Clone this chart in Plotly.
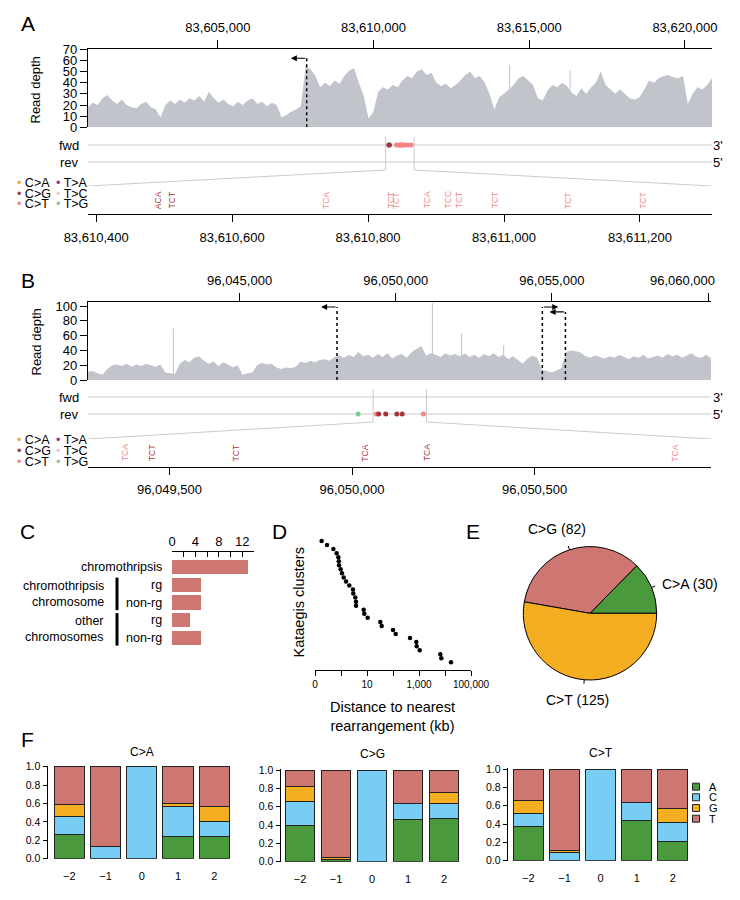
import math
import plotly.graph_objects as go

W, H = 740, 900
FONT = "Liberation Sans, Arial, Helvetica, sans-serif"


def X(px):
    return px / W


def Y(py):
    return 1 - py / H


def DX(a, b):
    return [a / W, b / W]


def DY(top, bottom):
    return [1 - bottom / H, 1 - top / H]


# ============================ DATA ============================
MUT_TYPES = ["C>A", "C>G", "C>T", "T>A", "T>C", "T>G"]

# ---- Panel A ----
A_RANGE = [83600830, 83620870]
A_ZOOM = [83610388, 83611306]
A_TOP_TICKS = [83605000, 83610000, 83615000, 83620000]
A_DEPTH_START = 83600830
A_DEPTH_STEP = 155.35
A_DEPTH = [18, 22, 20, 26, 29, 24, 21, 25, 20, 18,
           17, 21, 23, 18, 16, 9, 20, 24, 21, 25,
           22, 26, 24, 28, 23, 32, 26, 22, 25, 21,
           19, 23, 20, 24, 26, 21, 23, 19, 22, 20,
           9, 11, 14, 16, 19, 55, 52, 46, 36, 40,
           37, 42, 39, 46, 51, 53, 40, 28, 8, 14,
           32, 36, 34, 38, 36, 42, 46, 44, 50, 52,
           47, 49, 40, 37, 39, 35, 38, 42, 47, 50,
           44, 46, 40, 30, 16, 27, 30, 34, 38, 44,
           46, 42, 38, 26, 24, 33, 38, 36, 40, 37,
           31, 28, 35, 30, 36, 40, 50, 38, 34, 30,
           34, 30, 26, 25, 27, 34, 42, 40, 44, 46,
           47, 45, 44, 46, 21, 30, 36, 34, 38, 44]
A_SPIKE_POS = [83614369, 83616314]
A_SPIKE_VAL = [56, 51]
A_BP_POS = [83607853]
A_BP_DIR = [-1]
A_BP_TOP = [62]
A_MUT_POS = [83610491, 83610512, 83610738, 83610834, 83610841, 83610887,
             83610918, 83610934, 83610987, 83611094, 83611204]
A_MUT_TYPE = ["C>G", "C>G", "C>T", "C>T", "C>T", "C>T",
              "C>T", "C>T", "C>T", "C>T", "C>T"]
A_MUT_CTX = ["ACA", "TCT", "TCA", "TCT", "TCT", "TCA",
             "TCC", "TCT", "TCT", "TCT", "TCT"]
A_MUT_STRAND = ["fwd"] * 11

# ---- Panel B ----
B_RANGE = [96040145, 96060096]
B_ZOOM = [96049277, 96050983]
B_TOP_TICKS = [96045000, 96050000, 96055000, 96060000]
B_DEPTH_START = 96040145
B_DEPTH_STEP = 154.66
B_DEPTH = [11, 12, 9, 7, 15, 20, 21, 19, 22, 18,
           21, 19, 22, 20, 18, 21, 10, 9, 8, 22,
           27, 24, 30, 32, 26, 22, 25, 19, 24, 21,
           17, 20, 7, 9, 10, 20, 23, 21, 22, 17,
           15, 17, 16, 18, 25, 23, 26, 24, 27, 28,
           26, 31, 33, 30, 34, 31, 38, 32, 34, 30,
           35, 31, 36, 29, 33, 35, 30, 38, 42, 46,
           33, 36, 34, 31, 36, 33, 35, 32, 36, 31,
           34, 30, 35, 32, 36, 31, 34, 28, 32, 27,
           22, 29, 33, 30, 14, 12, 10, 13, 16, 38,
           40, 39, 37, 32, 30, 33, 31, 29, 32, 30,
           34, 31, 28, 32, 30, 34, 29, 31, 33, 30,
           35, 32, 34, 30, 33, 36, 31, 30, 34, 29]
B_SPIKE_POS = [96042878, 96051174, 96052106, 96053457]
B_SPIKE_VAL = [70, 104, 63, 47]
B_BP_POS = [96048119, 96054695, 96055434]
B_BP_DIR = [-1, 1, -1]
B_BP_TOP = [98.6, 98.6, 92]
B_MUT_POS = [96048794, 96049379, 96049453, 96049681, 96050035, 96050206, 96050884]
B_MUT_TYPE = ["T>G", "C>T", "C>G", "C>G", "C>G", "C>G", "C>T"]
B_MUT_CTX = ["", "TCA", "TCT", "TCT", "TCA", "TCA", "TCA"]
B_MUT_STRAND = ["rev"] * 7

# ---- Panel C ----
C_CATEGORIES = ["chromothripsis", "rg", "non-rg", "rg", "non-rg"]
C_VALUES = [13, 5, 5, 3, 5]
C_GROUP_LABELS = ["chromothripsis<br>chromosome", "other<br>chromosomes"]
C_GROUP_ROWS = [[1, 2], [3, 4]]
C_TICKS = [0, 2, 4, 6, 8, 10, 12, 14]
C_TICK_LABELS = ["0", "", "4", "", "8", "", "12", ""]

# ---- Panel D ----
D_DISTANCE_KB = [0.18, 0.29, 0.51, 0.68, 0.79, 0.82, 0.84, 0.97, 1.09, 1.27,
                 1.56, 2.08, 2.89, 2.97, 3.55, 3.78, 3.8, 7.46, 7.87, 10.6,
                 32.5, 36.7, 100, 127, 451, 787, 813, 1064, 6590, 7210, 17000]
D_TICKS = [0.1, 1, 10, 100, 1000, 10000, 100000]
D_TICK_LABELS = ["0", "", "10", "", "1,000", "", "100,000"]

# ---- Panel E ----
E_LABELS = ["C>A", "C>G", "C>T"]
E_COUNTS = [30, 82, 125]

# ---- Panel F ----
F_POSITIONS = ["\u22122", "\u22121", "0", "1", "2"]
F_BASES = ["A", "C", "G", "T"]
F_TITLES = ["C>A", "C>G", "C>T"]
F_CA = {"A": [0.26, 0.0, 0.0, 0.24, 0.24],
        "C": [0.20, 0.13, 1.0, 0.33, 0.16],
        "G": [0.13, 0.0, 0.0, 0.03, 0.17],
        "T": [0.41, 0.87, 0.0, 0.40, 0.43]}
F_CG = {"A": [0.39, 0.025, 0.0, 0.46, 0.47],
        "C": [0.27, 0.0, 1.0, 0.17, 0.16],
        "G": [0.16, 0.02, 0.0, 0.0, 0.12],
        "T": [0.18, 0.955, 0.0, 0.37, 0.25]}
F_CT = {"A": [0.37, 0.0, 0.0, 0.44, 0.21],
        "C": [0.14, 0.09, 1.0, 0.19, 0.21],
        "G": [0.15, 0.02, 0.0, 0.005, 0.15],
        "T": [0.34, 0.89, 0.0, 0.365, 0.43]}

# ============================ STYLE ============================
MUT_COLORS = {"C>A": "#f3a93c", "C>G": "#a3353b", "C>T": "#f28680",
              "T>A": "#9c2f8f", "T>C": "#f6c3ca", "T>G": "#80cb99"}
DEPTH_COL = "#c1c4cb"
TRACK_COL = "#c9cacf"
BAR_C_COL = "#cd7672"
PIE_COLORS = ["#4a9a3d", "#cd7672", "#f5ad22"]
BASE_COLORS = {"A": "#4a9a3d", "C": "#77cdf4", "G": "#f5ad22", "T": "#cd7672"}
ARROW_LEN = 510

fig = go.Figure()
ann = []
shp = []


def txt(x, y, text, size=13, xanchor="center", yanchor="middle", xref="paper",
        yref="paper", angle=0, color="black", align="center"):
    ann.append(dict(x=x, y=y, xref=xref, yref=yref, text=text, showarrow=False,
                    xanchor=xanchor, yanchor=yanchor, textangle=angle,
                    align=align, font=dict(family=FONT, size=size, color=color)))


def add_genomic(p):
    xa, ya, yt, xz, yz = p["axes"]
    g = p["geom"]
    n = len(p["depth"])
    pos = [p["depth_start"] + p["depth_step"] * i for i in range(n)]
    fig.add_trace(go.Scatter(x=pos, y=p["depth"], xaxis=xa, yaxis=ya, mode="lines",
                             line=dict(width=0, color=DEPTH_COL), fill="tozeroy",
                             fillcolor=DEPTH_COL, hoverinfo="skip", showlegend=False))
    sx, sy = [], []
    for s, v in zip(p["spike_pos"], p["spike_val"]):
        sx += [s, s, None]
        sy += [0, v, None]
    fig.add_trace(go.Scatter(x=sx, y=sy, xaxis=xa, yaxis=ya, mode="lines",
                             line=dict(width=1, color=DEPTH_COL),
                             hoverinfo="skip", showlegend=False, cliponaxis=True))
    for b, d, t in zip(p["bp_pos"], p["bp_dir"], p["bp_top"]):
        fig.add_trace(go.Scatter(x=[b, b], y=[0, t], xaxis=xa, yaxis=ya, mode="lines",
                                 line=dict(width=1.5, color="black", dash="dot"),
                                 hoverinfo="skip", showlegend=False))
        ann.append(dict(x=b + d * ARROW_LEN, y=t, ax=b, ay=t, xref=xa, yref=ya,
                        axref=xa, ayref=ya, text="", showarrow=True, arrowhead=2,
                        arrowsize=1.1, arrowwidth=1.1, arrowcolor="black"))
    r0, r1 = p["range"]
    fy, ry = g["fwd"], g["rev"]
    fig.add_trace(go.Scatter(x=[r0, r1, None, r0, r1], y=[fy, fy, None, ry, ry],
                             xaxis=xa, yaxis=yt, mode="lines",
                             line=dict(width=1.2, color=TRACK_COL),
                             hoverinfo="skip", showlegend=False))
    zs, ze = p["zoom"]
    fig.add_trace(go.Scatter(
        x=[zs, zs, r0, None, ze, ze, r1],
        y=[g["zl_top"], g["zl_bot"], g["diag"], None, g["zl_top"], g["zl_bot"], g["diag"]],
        xaxis=xa, yaxis=yt, mode="lines", line=dict(width=1, color=TRACK_COL),
        hoverinfo="skip", showlegend=False, cliponaxis=False))
    mx = p["mut_pos"]
    my = [g[s] for s in p["mut_strand"]]
    mc = [MUT_COLORS[t] for t in p["mut_type"]]
    fig.add_trace(go.Scatter(x=mx, y=my, xaxis=xa, yaxis=yt, mode="markers",
                             marker=dict(size=5, color=mc, line=dict(width=0)),
                             hoverinfo="skip", showlegend=False, cliponaxis=False))
    for ps, t, c in zip(p["mut_pos"], p["mut_type"], p["mut_ctx"]):
        if zs <= ps <= ze and c:
            txt(ps, 0.5, c, size=8.5, xref=xz, yref=yz, angle=-90,
                color=MUT_COLORS[t])
    # labels
    txt(X(81), fy, "fwd", xanchor="right", yref=yt)
    txt(X(81), ry, "rev", xanchor="right", yref=yt)
    txt(X(711), fy, "3'", xanchor="left", yref=yt)
    txt(X(711), ry, "5'", xanchor="left", yref=yt)
    txt(X(g["rd_x"]), Y(g["rd_y"]), "Read depth", angle=-90)
    txt(X(27.5), Y(g["letter_y"]), p["letter"], size=21)
    # mutation-type legend
    cols = [(14.5, ["C>A", "C>G", "C>T"]), (53.5, ["T>A", "T>C", "T>G"])]
    for cx, types in cols:
        for ty, rowy in zip(types, g["leg_rows"]):
            txt(X(cx), Y(rowy),
                '<span style="color:%s">\u2022</span> %s' % (MUT_COLORS[ty], ty),
                xanchor="left", size=12.5)


A = dict(axes=("x", "y", "y2", "x2", "y3"), range=A_RANGE, zoom=A_ZOOM,
         depth=A_DEPTH, depth_start=A_DEPTH_START, depth_step=A_DEPTH_STEP,
         spike_pos=A_SPIKE_POS, spike_val=A_SPIKE_VAL, bp_pos=A_BP_POS,
         bp_dir=A_BP_DIR, bp_top=A_BP_TOP, mut_pos=A_MUT_POS, mut_type=A_MUT_TYPE,
         mut_ctx=A_MUT_CTX, mut_strand=A_MUT_STRAND, letter="A",
         geom=dict(fwd=145, rev=162, zl_top=137, zl_bot=170, diag=186,
                   rd_x=35, rd_y=90.5, letter_y=24,
                   leg_rows=[183.3, 193.8, 204.3]))
B = dict(axes=("x3", "y4", "y5", "x4", "y6"), range=B_RANGE, zoom=B_ZOOM,
         depth=B_DEPTH, depth_start=B_DEPTH_START, depth_step=B_DEPTH_STEP,
         spike_pos=B_SPIKE_POS, spike_val=B_SPIKE_VAL, bp_pos=B_BP_POS,
         bp_dir=B_BP_DIR, bp_top=B_BP_TOP, mut_pos=B_MUT_POS, mut_type=B_MUT_TYPE,
         mut_ctx=B_MUT_CTX, mut_strand=B_MUT_STRAND, letter="B",
         geom=dict(fwd=397, rev=414, zl_top=389, zl_bot=422, diag=439,
                   rd_x=36, rd_y=342.5, letter_y=280.8,
                   leg_rows=[440, 451.3, 462.5]))
add_genomic(A)
add_genomic(B)

AX = dict(showgrid=False, zeroline=False, showline=True, linecolor="black",
          linewidth=1.2, tickcolor="black", tickwidth=1.2,
          tickfont=dict(family=FONT, size=13, color="black"))

fmt = lambda v: "{:,}".format(v)
# the right-most label of panel B sits shifted left of its tick in the reference
B_TOP_TEXT = [fmt(v) for v in B_TOP_TICKS[:-1]] + [""]

layout_axes = dict(
    # Panel A
    xaxis=dict(AX, domain=DX(88, 712), range=A_RANGE, side="top", anchor="y",
               ticks="outside", ticklen=8, tickvals=A_TOP_TICKS,
               ticktext=[fmt(v) for v in A_TOP_TICKS], ticklabelstandoff=3,
               ticklabeloverflow="allow"),
    yaxis=dict(AX, domain=DY(49.3, 127.3), range=[0, 70], anchor="x",
               ticks="outside", ticklen=7, dtick=10),
    yaxis2=dict(domain=DY(127.3, 190), range=[190, 127.3], anchor="x", visible=False),
    xaxis2=dict(AX, domain=DX(88, 712), range=A_ZOOM, anchor="y3", side="bottom",
                ticks="outside", ticklen=7, dtick=200, tick0=0, tickformat=",d",
                ticklabelstandoff=4),
    yaxis3=dict(domain=DY(186, 214.3), range=[0, 1], anchor="x2", visible=False),
    # Panel B
    xaxis3=dict(AX, domain=DX(88, 711), range=B_RANGE, side="top", anchor="y4",
                ticks="outside", ticklen=8, tickvals=B_TOP_TICKS, ticktext=B_TOP_TEXT,
                ticklabelstandoff=3),
    yaxis4=dict(AX, domain=DY(302.3, 380), range=[0, 105], anchor="x3",
                ticks="outside", ticklen=7, tickvals=[0, 20, 40, 60, 80, 100]),
    yaxis5=dict(domain=DY(380, 442), range=[442, 380], anchor="x3", visible=False),
    xaxis4=dict(AX, domain=DX(88, 711), range=B_ZOOM, anchor="y6", side="bottom",
                ticks="outside", ticklen=7, dtick=500, tick0=0, tickformat=",d",
                ticklabelstandoff=4),
    yaxis6=dict(domain=DY(439, 466.7), range=[0, 1], anchor="x4", visible=False),
    # Panel C
    xaxis5=dict(AX, domain=DX(172, 254), range=[0, 14], side="top", anchor="y7",
                ticks="inside", ticklen=5, tickvals=C_TICKS, ticktext=C_TICK_LABELS),
    yaxis7=dict(domain=DY(552, 647), range=[4.507, -0.845], anchor="x5", visible=False),
    # Panel D
    xaxis6=dict(AX, domain=DX(315, 471), type="log", range=[-1, 5], anchor="y8",
                ticks="outside", ticklen=5, tickvals=D_TICKS, ticktext=D_TICK_LABELS,
                tickfont=dict(family=FONT, size=10, color="black")),
    yaxis8=dict(domain=DY(536, 670), range=[32.9, -0.24], anchor="x6", visible=False),
)
txt(X(682), Y(280), fmt(B_TOP_TICKS[-1]), size=13)

# Panel C traces
fig.add_trace(go.Bar(x=C_VALUES, y=list(range(len(C_VALUES))), orientation="h",
                     xaxis="x5", yaxis="y7", width=0.79,
                     marker=dict(color=BAR_C_COL, line=dict(width=0)),
                     hoverinfo="skip", showlegend=False))
for i, lab in enumerate(C_CATEGORIES):
    txt(X(164), i, lab, size=12.5, xanchor="right", yref="y7")
for lab, rows in zip(C_GROUP_LABELS, C_GROUP_ROWS):
    txt(X(106), (rows[0] + rows[1]) / 2, lab, size=12.5, xanchor="right",
        yref="y7", align="right")
    shp.append(dict(type="line", xref="paper", yref="y7", x0=X(117), x1=X(117),
                    y0=rows[0] - 0.4, y1=rows[1] + 0.43,
                    line=dict(color="black", width=3)))
txt(X(27.5), Y(531.7), "C", size=21)

# Panel D traces
fig.add_trace(go.Scatter(x=D_DISTANCE_KB, y=list(range(1, len(D_DISTANCE_KB) + 1)),
                         xaxis="x6", yaxis="y8", mode="markers",
                         marker=dict(size=4.5, color="black"),
                         hoverinfo="skip", showlegend=False))
txt(X(298.5), Y(603), "Kataegis clusters", size=14.5, angle=-90)
txt(X(392), Y(716), "Distance to nearest<br>rearrangement (kb)", size=14.5)
txt(X(279), Y(531.7), "D", size=21)

# Panel E pie (first slice starts at 3 o'clock, counter-clockwise)
PC_X, PC_Y, PR = 590, 613.3, 66.7
total = sum(E_COUNTS)
fig.add_trace(go.Pie(values=E_COUNTS, labels=E_LABELS, sort=False,
                     direction="counterclockwise",
                     rotation=90 - 360.0 * E_COUNTS[0] / total,
                     marker=dict(colors=PIE_COLORS, line=dict(color="black", width=1)),
                     textinfo="none", hoverinfo="skip", showlegend=False,
                     domain=dict(x=DX(PC_X - PR, PC_X + PR), y=DY(PC_Y - PR, PC_Y + PR))))
cum = 0
for c in E_COUNTS:
    mid = 2 * math.pi * (cum + c / 2) / total
    cum += c
    x0 = PC_X + PR * math.cos(mid)
    y0 = PC_Y - PR * math.sin(mid)
    x1 = PC_X + PR * 1.06 * math.cos(mid)
    y1 = PC_Y - PR * 1.06 * math.sin(mid)
    shp.append(dict(type="line", xref="paper", yref="paper", x0=X(x0), y0=Y(y0),
                    x1=X(x1), y1=Y(y1), line=dict(color="black", width=1)))
E_LABEL_XY = [(689.5, 584), (557, 529), (577, 700)]
for lab, cnt, (lx, ly) in zip(E_LABELS, E_COUNTS, E_LABEL_XY):
    txt(X(lx), Y(ly), "%s (%d)" % (lab, cnt), size=14)
txt(X(472.5), Y(531.7), "E", size=21)

# Panel F
F_DATA = [F_CA, F_CG, F_CT]
F_GEOM = [  # x-domain, y top (1.0), y bottom (0.0), y-axis position, title y
    (51.2, 232.3, 766.7, 858.7, 46.5, 752),
    (282.0, 462.0, 770.0, 861.7, 279.5, 754),
    (510.3, 690.9, 769.0, 860.7, 506.7, 753.3),
]
for k, (data, title, gm) in enumerate(zip(F_DATA, F_TITLES, F_GEOM)):
    xa = "x%d" % (7 + k)
    ya = "y%d" % (9 + k)
    x0, x1, yt_, yb_, ypos, ty = gm
    for b in F_BASES:
        fig.add_trace(go.Bar(x=list(range(len(F_POSITIONS))), y=data[b], xaxis=xa,
                             yaxis=ya, width=0.83,
                             marker=dict(color=BASE_COLORS[b],
                                         line=dict(color="#222222", width=1)),
                             hoverinfo="skip", showlegend=False))
    top_ext = yt_ - (yb_ - yt_) * 0.01
    layout_axes["xaxis%d" % (7 + k)] = dict(
        domain=DX(x0, x1), range=[-0.5, 4.5], anchor=ya, showline=False,
        showgrid=False, zeroline=False, ticks="", tickvals=list(range(5)),
        ticktext=F_POSITIONS, ticklabelstandoff=9,
        tickfont=dict(family=FONT, size=11, color="black"))
    layout_axes["yaxis%d" % (9 + k)] = dict(
        AX, domain=DY(top_ext, yb_), range=[0, 1.01], anchor="free",
        position=X(ypos), ticks="outside", ticklen=4, tickvals=[0, 0.2, 0.4, 0.6, 0.8, 1.0],
        tickformat=".1f", tickfont=dict(family=FONT, size=10.5, color="black"),
        linewidth=1, tickwidth=1)
    txt((X(x0) + X(x1)) / 2, Y(ty), title, size=12)
txt(X(27), Y(739), "F", size=21)

# F legend
for b, ry in zip(F_BASES, [786.7, 797.3, 808.0, 818.7]):
    shp.append(dict(type="rect", xref="paper", yref="paper",
                    x0=X(692.5), x1=X(699.5), y0=Y(ry + 3.5), y1=Y(ry - 3.5),
                    fillcolor=BASE_COLORS[b], line=dict(color="#222222", width=1)))
    txt(X(707), Y(ry), b, size=11, xanchor="left")

fig.update_layout(
    width=W, height=H, margin=dict(l=0, r=0, t=0, b=0, pad=0, autoexpand=False),
    paper_bgcolor="white", plot_bgcolor="white",
    barmode="stack", showlegend=False,
    font=dict(family=FONT, size=13, color="black"),
    annotations=ann, shapes=shp, **layout_axes)

fig.write_html("out.html", config={"displayModeBar": False},
               post_script="document.body.style.margin='0px';"
                           "document.body.style.overflow='hidden';")
